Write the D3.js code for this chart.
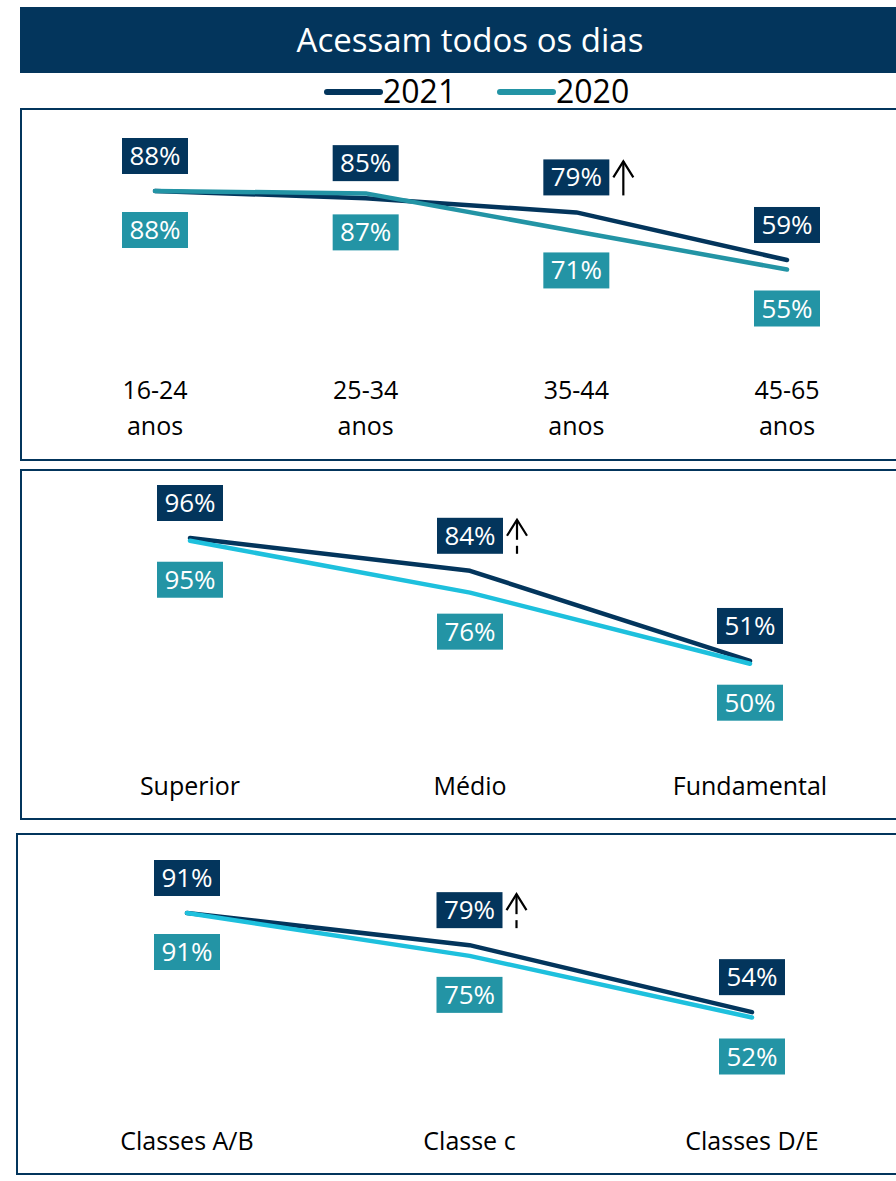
<!DOCTYPE html>
<html><head><meta charset="utf-8">
<script src="https://cdn.jsdelivr.net/npm/d3@7"></script>
<style>
html,body{margin:0;padding:0;background:#fff;}
svg{display:block;}
</style></head>
<body>
<svg id="chart" width="896" height="1181"></svg>
<script>
const title = "Acessam todos os dias";
const seriesNames = ["2021", "2020"];

const ageCats = ["16-24 anos", "25-34 anos", "35-44 anos", "45-65 anos"];
const age2021 = [88, 85, 79, 59];
const age2020 = [88, 87, 71, 55];

const eduCats = ["Superior", "Médio", "Fundamental"];
const edu2021 = [96, 84, 51];
const edu2020 = [95, 76, 50];

const classCats = ["Classes A/B", "Classe c", "Classes D/E"];
const class2021 = [91, 79, 54];
const class2020 = [91, 75, 52];

// significance arrows: index of category, dashed?
const ageArrow = {index: 2, dashed: false};
const eduArrow = {index: 1, dashed: true};
const classArrow = {index: 1, dashed: true};

const NAVY = "#03355C";
const TEAL = "#2394A5";
const CYAN = "#1EC0DD";
const FONT = "'Liberation Sans Narrow', 'Open Sans', sans-serif";

const svg = d3.select("#chart");

// Title bar
svg.append("rect").attr("x", 20).attr("y", 7).attr("width", 876).attr("height", 66).attr("fill", NAVY);
svg.append("text").attr("x", 470).attr("y", 52).attr("text-anchor", "middle")
  .attr("fill", "#fff").attr("font-family", FONT).attr("font-size", 33).text(title);

// Legend
const legendColors = [NAVY, TEAL];
const legendX = [327, 500];
seriesNames.forEach((s, i) => {
  const g = svg.append("g");
  g.append("line").attr("x1", legendX[i]).attr("x2", legendX[i] + 53).attr("y1", 92).attr("y2", 92)
    .attr("stroke", legendColors[i]).attr("stroke-width", 6).attr("stroke-linecap", "round");
  g.append("text").attr("x", legendX[i] + 56).attr("y", 103).attr("font-family", FONT)
    .attr("font-size", 32).attr("fill", "#000").text(s);
});

const panels = [
  {cats: ageCats, s21: age2021, s20: age2020, arrow: ageArrow, c20: TEAL,
   box: {x: 21, y: 109, h: 351}, xr: [155, 787], yd: [88, 55], yr: [191, 269.5], labY: 399},
  {cats: eduCats, s21: edu2021, s20: edu2020, arrow: eduArrow, c20: CYAN,
   box: {x: 21, y: 470, h: 349}, xr: [190, 750], yd: [96, 50], yr: [538, 663.7], labY: 795},
  {cats: classCats, s21: class2021, s20: class2020, arrow: classArrow, c20: CYAN,
   box: {x: 17, y: 834, h: 340}, xr: [187, 752], yd: [91, 52], yr: [913, 1017.5], labY: 1150}
];

panels.forEach(p => {
  const g = svg.append("g");
  g.append("rect").attr("x", p.box.x).attr("y", p.box.y).attr("width", 900).attr("height", p.box.h)
    .attr("fill", "none").attr("stroke", NAVY).attr("stroke-width", 2);

  const x = d3.scalePoint().domain(p.cats).range(p.xr);
  const y = d3.scaleLinear().domain(p.yd).range(p.yr);

  const d21 = p.cats.map((c, i) => ({c, v: p.s21[i]}));
  const d20 = p.cats.map((c, i) => ({c, v: p.s20[i]}));
  const line = d3.line().x(d => x(d.c)).y(d => y(d.v));

  g.append("path").datum(d21).attr("d", line).attr("fill", "none").attr("stroke", NAVY)
    .attr("stroke-width", 4.5).attr("stroke-linecap", "round").attr("stroke-linejoin", "round");
  g.append("path").datum(d20).attr("d", line).attr("fill", "none").attr("stroke", p.c20)
    .attr("stroke-width", 4.5).attr("stroke-linecap", "round").attr("stroke-linejoin", "round");

  const bw = 66, bh = 36;
  const addLabel = (d, dy, fill) => {
    const cx = x(d.c), cy = y(d.v) + dy;
    g.append("rect").attr("x", cx - bw / 2).attr("y", cy - bh / 2).attr("width", bw).attr("height", bh).attr("fill", fill);
    g.append("text").attr("x", cx).attr("y", cy + 9).attr("text-anchor", "middle").attr("fill", "#fff")
      .attr("font-family", FONT).attr("font-size", 26).text(d.v + "%");
  };
  d21.forEach(d => addLabel(d, -35, NAVY));
  d20.forEach(d => addLabel(d, 39, TEAL));

  // category labels
  p.cats.forEach(c => {
    const t = g.append("text").attr("x", x(c)).attr("y", p.labY).attr("text-anchor", "middle")
      .attr("font-family", FONT).attr("font-size", 25).attr("fill", "#000");
    if (p.cats.length === 4) {
      const parts = c.split(" ");
      t.append("tspan").attr("x", x(c)).text(parts[0]);
      t.append("tspan").attr("x", x(c)).attr("dy", 36).text(parts[1]);
    } else {
      t.text(c);
    }
  });

  // significance arrow
  const a = p.arrow;
  const ad = d21[a.index];
  const ax = x(ad.c) + 47;
  const acy = y(ad.v) - 35;
  const top = acy - 16, bottom = acy + 18;
  const ag = g.append("g").attr("stroke", "#000").attr("stroke-width", 2.2).attr("fill", "none");
  ag.append("path").attr("d", `M${ax - 10},${top + 16} L${ax},${top} L${ax + 10},${top + 16}`);
  if (a.dashed) {
    ag.append("line").attr("x1", ax).attr("x2", ax).attr("y1", top).attr("y2", top + 20);
    ag.append("line").attr("x1", ax).attr("x2", ax).attr("y1", top + 26).attr("y2", bottom);
  } else {
    ag.append("line").attr("x1", ax).attr("x2", ax).attr("y1", top).attr("y2", bottom);
  }
});
</script>
</body></html>
